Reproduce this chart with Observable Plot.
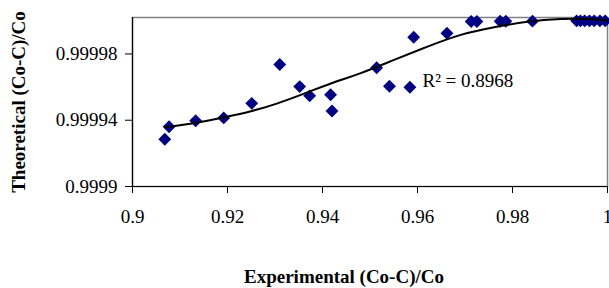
<!DOCTYPE html>
<html>
<head>
<meta charset="utf-8">
<script src="https://cdn.jsdelivr.net/npm/d3@7"></script>
<script src="https://cdn.jsdelivr.net/npm/@observablehq/plot@0.6"></script>
<style>
  html, body { margin: 0; padding: 0; background: #fff; }
  #chart svg { display: block; }
</style>
</head>
<body>
<div id="chart"></div>
<script>
// Observed points (Experimental vs Theoretical (Co-C)/Co)
const experimental = [0.9068, 0.9077, 0.9133, 0.9192, 0.9251, 0.9310, 0.9352, 0.9373, 0.9417, 0.9420,
  0.9514, 0.9541, 0.9584, 0.9592, 0.9662, 0.9713, 0.9725, 0.9774, 0.9786, 0.9842,
  0.9935, 0.9943, 0.9952, 0.9962, 0.9972, 0.9984, 0.9995];
const theoretical = [0.9999285, 0.9999361, 0.9999397, 0.9999414, 0.9999502, 0.9999736, 0.9999603, 0.9999547, 0.9999554, 0.9999456,
  0.9999717, 0.9999605, 0.9999599, 0.9999901, 0.9999925, 0.9999996, 0.9999996, 0.9999997, 0.9999997, 0.9999998,
  1.0, 1.0, 1.0, 1.0, 1.0, 1.0, 1.0];

// Trend line
const trendX = [0.90686, 0.91333, 0.91928, 0.92512, 0.93053, 0.93543, 0.93964, 0.94385, 0.94806,
  0.95507, 0.96211, 0.96912, 0.97613, 0.98316, 0.99017, 0.99718, 1.0];
const trendY = [0.99993575, 0.9999385, 0.9999418, 0.9999456, 0.9999502, 0.9999553, 0.9999599, 0.9999643, 0.9999684,
  0.9999764, 0.9999844, 0.9999915, 0.9999961, 0.9999995, 1.0000011, 1.0000010, 1.0000001];

const xTicks = [0.9, 0.92, 0.94, 0.96, 0.98, 1];
const xTickLabels = ["0.9", "0.92", "0.94", "0.96", "0.98", "1"];
const yTicks = [0.9999, 0.99994, 0.99998];
const yTickLabels = ["0.9999", "0.99994", "0.99998"];

const xTitle = "Experimental (Co-C)/Co";
const yTitle = "Theoretical (Co-C)/Co";
const r2Label = ["R² = 0.8968"];
const r2Pos = {x: 0.96105, y: 0.999964};

const points = experimental.map((x, i) => ({x, y: theoretical[i]}));
const trend = trendX.map((x, i) => ({x, y: trendY[i]}));

const font = "'Liberation Serif', 'Times New Roman', serif";

const chart = Plot.plot({
  width: 609,
  height: 288,
  marginLeft: 132,
  marginRight: 2,
  marginTop: 17,
  marginBottom: 102,
  style: {fontFamily: font, fontSize: "19px", color: "#000", background: "#fff"},
  x: {domain: [0.9, 1]},
  y: {domain: [0.9999, 1.000002]},
  marks: [
    Plot.frame({stroke: "#808080", strokeWidth: 1.5}),
    Plot.ruleX([0.9], {stroke: "#000", strokeWidth: 1.2}),
    Plot.ruleY([0.9999], {stroke: "#000", strokeWidth: 1.2}),
    Plot.axisX({ticks: xTicks, tickFormat: (d, i) => xTickLabels[i], tickSize: 7, tickPadding: 16, label: null, fontSize: 19}),
    Plot.axisY({ticks: yTicks, tickFormat: (d, i) => yTickLabels[i], tickSize: 7, tickPadding: 8, label: null, fontSize: 19}),
    Plot.dot(points, {x: "x", y: "y", symbol: "diamond2", r: 5.8, fill: "#000080", stroke: "none"}),
    Plot.line(trend, {x: "x", y: "y", curve: "natural", stroke: "#000", strokeWidth: 2}),
    Plot.text(r2Label, {x: () => r2Pos.x, y: () => r2Pos.y, textAnchor: "start", lineAnchor: "middle", fontSize: 19}),
    Plot.text([xTitle], {frameAnchor: "bottom", dx: -26, dy: 90, textAnchor: "middle", lineAnchor: "middle", fontWeight: "bold", fontSize: 19}),
    Plot.text([yTitle], {frameAnchor: "left", dx: -114, rotate: -90, textAnchor: "middle", lineAnchor: "middle", fontWeight: "bold", fontSize: 19})
  ]
});
document.getElementById("chart").appendChild(chart);
</script>
</body>
</html>
